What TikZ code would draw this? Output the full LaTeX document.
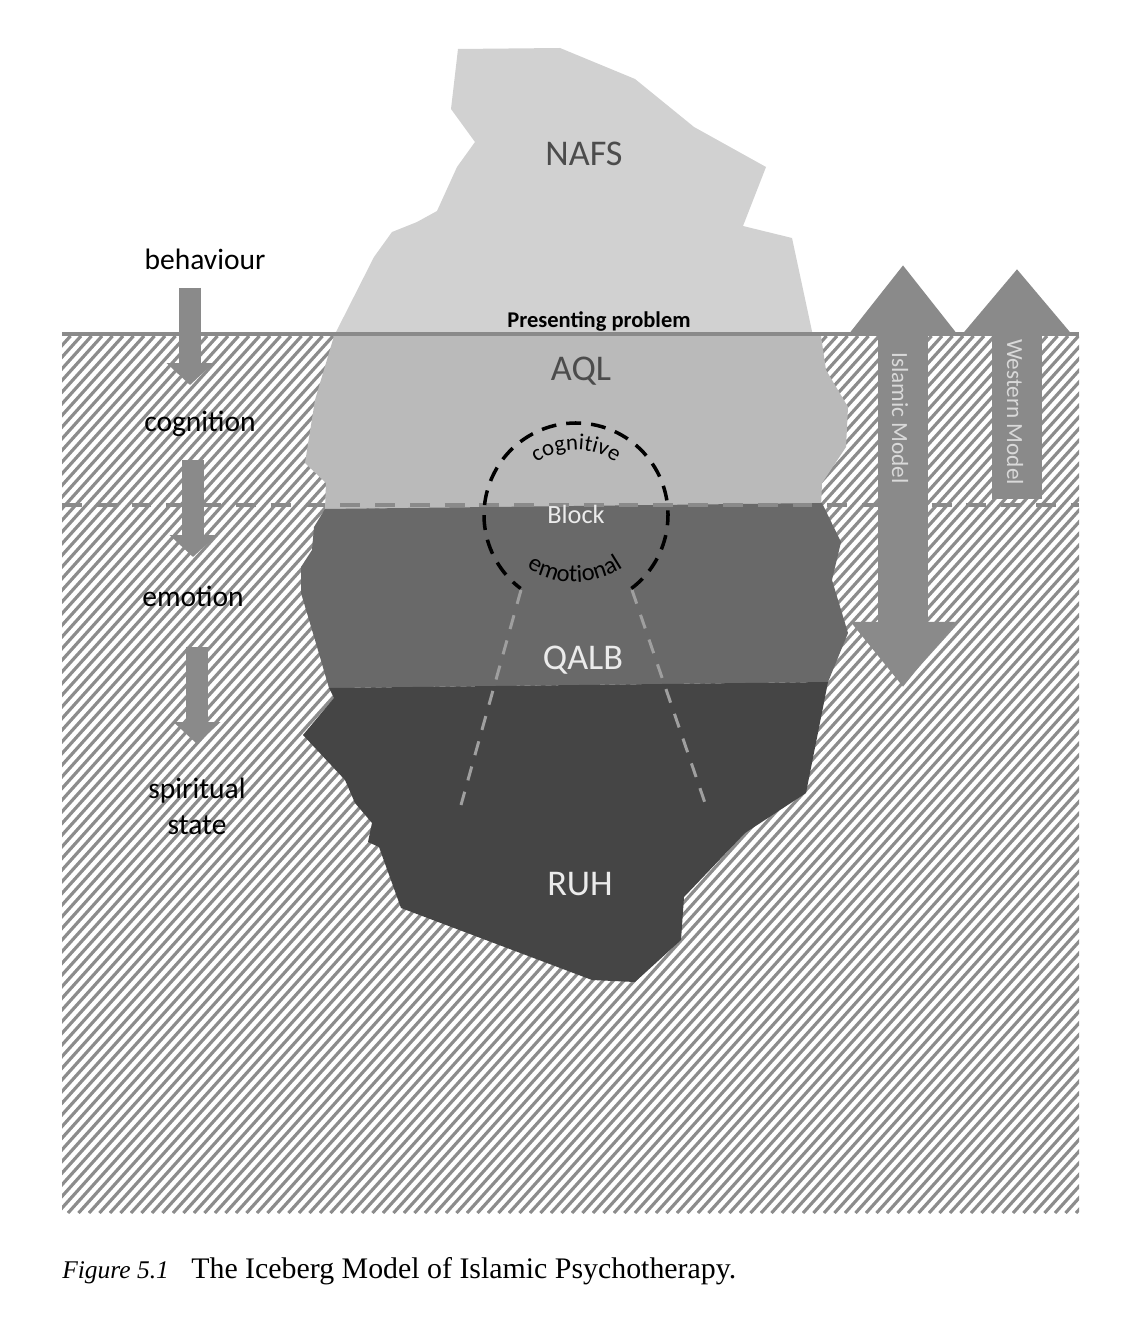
\documentclass[tikz,border=0pt]{standalone}
\usepackage[]{fontspec}
\usepackage[]{xcolor}
\usetikzlibrary{arrows.meta}
\usetikzlibrary{decorations.text}
\setmainfont{Carlito}
\newfontfamily\figfont{Liberation Serif}
\definecolor{nafsgray}{gray}{0.82}
\definecolor{aqlgray}{gray}{0.73}
\definecolor{qalbgray}{gray}{0.41}
\definecolor{ruhgray}{gray}{0.27}
\definecolor{seagray}{gray}{0.54}
\tikzset{hatch/.style = {gray!90, line width = 1.8pt}}
\tikzset{level/.style = {font = \fontsize{20.6}{24}\selectfont}}
\tikzset{stage/.style = {black, align = center, font = \fontsize{16.8}{20.4}\selectfont}}
\tikzset{model/.style = {gray!30, rotate = -90, font = \fontsize{13.2}{16}\selectfont}}
\tikzset{flow/.style = {seagray, line width = 13pt, -{Triangle[length = 12.5pt, width = 26pt]}}}
\tikzset{tower/.style = {seagray, line width = 28.3pt}}
\tikzset{beam/.style = {gray!75, line width = 1.7pt, dash pattern = on 8.2pt off 6.7pt}}
\begin{document}
\begin{tikzpicture}[x=0.02cm, y=-0.02cm]
    \fill [white] (0,0) rectangle (1144,1324);
    \begin{scope}
        \clip (62,336) rectangle (1079,1213);
        \foreach \hx in {-730,-719.5,...,1080} {
            \draw [hatch] (\hx,1213) -- ++(790,-877);
        }
    \end{scope}
    \fill [nafsgray] (458,49) -- (560,48) -- (635,79) -- (694,127) -- (766,167) -- (743,226) -- (792,238) -- (813,336)
        -- (334,336) -- (374,257) -- (392,232) -- (417,222) -- (437,211) -- (457,167) -- (475,142) -- (451,109) -- cycle;
    \fill [aqlgray] (334,336) -- (821,336) -- (826,370) -- (848,407) -- (846,447) -- (822,483) -- (821,506)
        -- (325,509) -- (326,483) -- (305,463) -- (315,400) -- cycle;
    \fill [qalbgray] (325,509) -- (822,503) -- (841,542) -- (832,580) -- (848,633) -- (828,682)
        -- (329,688) -- (315,640) -- (301,593) -- (301,567) -- (312,550) -- (314,527) -- cycle;
    \fill [ruhgray] (329,688) -- (828,682) -- (806,793) -- (745,833) -- (684,897) -- (681,940) -- (635,982) -- (592,980)
        -- (401,908) -- (379,847) -- (368,842) -- (372,823) -- (355,803) -- (345,780) -- (303,735) -- (334,698) -- cycle;

    \draw [seagray, line width = 2.3pt] (62,334) -- (1079,334);
    \draw [seagray, line width = 2.3pt, dash pattern = on 11.3pt off 8.5pt] (62,505) -- (1079,505);

    \coordinate (b1) at (190,288);
    \coordinate (b2) at (190,385);
    \coordinate (c1) at (193,460);
    \coordinate (c2) at (193,557);
    \coordinate (e1) at (197,647);
    \coordinate (e2) at (197,744);
    \draw [flow] (b1) -- (b2);
    \draw [flow] (c1) -- (c2);
    \draw [flow] (e1) -- (e2);

    \coordinate (i1) at (903,265);
    \coordinate (i2) at (903,687);
    \coordinate (w1) at (1017,269);
    \coordinate (w2) at (1017,499);
    \draw [tower, {Triangle[length = 38pt, width = 57pt]}-{Triangle[length = 37pt, width = 57pt]}] (i1) -- (i2);
    \draw [tower, {Triangle[length = 36pt, width = 58pt]}-] (w1) -- (w2);

    \draw [black, line width = 2pt, dash pattern = on 8.5pt off 5.7pt] (576,515) ++(53:92) arc [start angle = 53, end angle = -233, radius = 92];
    \path [decorate, decoration = {text along path, text align = center, text = {|\fontsize{13}{15}\selectfont|cognitive}}]
        (576,518) ++(200:68) arc [start angle = 200, end angle = 340, radius = 68];
    \path [decorate, decoration = {text along path, text align = center, text = {|\fontsize{14}{16}\selectfont|emotional}}]
        (575,495) ++(170:87) arc [start angle = 170, end angle = 10, radius = 87];

    \coordinate (l1) at (521,590);
    \coordinate (l2) at (461,805);
    \coordinate (r1) at (632,590);
    \coordinate (r2) at (705,803);
    \draw [beam] (l1) -- (l2);
    \draw [beam] (r1) -- (r2);

    \node [level, black!70] (nafs) at (584,154) {NAFS};
    \node [level, black!70] (aql) at (581,371) {AQL};
    \node [level, white!92!black] (qalb) at (583,660) {QALB};
    \node [level, white!92!black] (ruh) at (580,884) {RUH};
    \node [white!92!black, font = \fontsize{15}{18}\selectfont] (block) at (576,514) {Block};
    \node [black, font = \bfseries\fontsize{12.8}{16}\selectfont] (problem) at (599,321) {Presenting problem};
    \node [stage] (behaviour) at (205,259) {behaviour};
    \node [stage] (cognition) at (200,424) {cognition};
    \node [stage] (emotion) at (193,596) {emotion};
    \node [stage] (spiritual) at (197,806) {spiritual\\state};
    \node [model] (islamic) at (900,418) {Islamic Model};
    \node [model] (western) at (1015,412) {Western Model};
    \node [anchor = west, inner sep = 0, font = \figfont\fontsize{17}{20}\selectfont] (caption) at (62,1271) {\textit{\fontsize{14.5}{20}\selectfont Figure 5.1}\hspace{0.75em}The Iceberg Model of Islamic Psychotherapy.};
\end{tikzpicture}
\end{document}
